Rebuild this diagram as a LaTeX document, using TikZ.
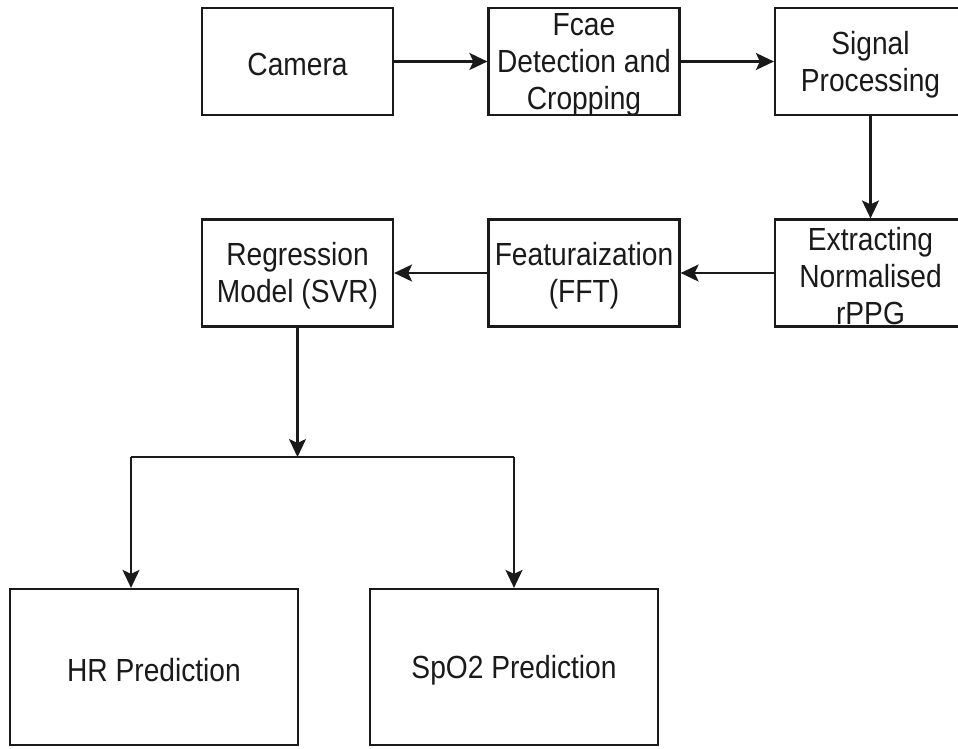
\documentclass[tikz,border=0pt]{standalone}
\usepackage{fontspec}
\setmainfont{Liberation Sans}[FakeStretch=0.88]
\usetikzlibrary{arrows.meta}
\definecolor{ink}{HTML}{1A1A1A}
\begin{document}
\begin{tikzpicture}[x=1pt,y=-1pt,
  box/.style={draw=ink, line width=2.2pt, fill=white, inner sep=0pt, minimum width=191pt, minimum height=107pt},
  bigbox/.style={draw=ink, line width=2.2pt, fill=white, inner sep=0pt, minimum width=288pt, minimum height=156pt},
  txt/.style={inner sep=0pt, align=center, text=ink, yshift=-3pt, font=\fontsize{32}{37}\selectfont},
  conn/.style={draw=ink, line width=2.2pt},
  arr/.style={conn, -{Stealth[length=18pt,width=17pt,inset=4pt]}}]
\useasboundingbox (0,0) rectangle (958,748);
\clip (0,0) rectangle (958,748);
\fill[white] (0,0) rectangle (958,748);
\node[box, label={[txt]center:Camera}] (cam) at (297.5,61.5) {};
\node[box, label={[txt]center:Fcae\\Detection and\\Cropping}] (face) at (584,61.5) {};
\node[box, label={[txt]center:Signal\\Processing}] (sig) at (870.5,61.5) {};
\node[box, label={[txt]center:Extracting\\Normalised\\rPPG}] (ext) at (870.5,273) {};
\node[box, label={[txt]center:Featuraization\\(FFT)}] (feat) at (584,273) {};
\node[box, label={[txt]center:Regression\\Model (SVR)}] (reg) at (297.5,273) {};
\node[bigbox, label={[txt]center:HR Prediction}] (hr) at (154,667) {};
\node[bigbox, label={[txt]center:SpO2 Prediction}] (spo) at (514,667) {};
\coordinate (j) at (297.5,457);
\coordinate (jl) at (131,457);
\coordinate (jr) at (514,457);
\draw[arr] (cam.east) -- (face.west);
\draw[arr] (face.east) -- (sig.west);
\draw[arr] (sig.south) -- (ext.north);
\draw[arr] (ext.west) -- (feat.east);
\draw[arr] (feat.west) -- (reg.east);
\draw[arr] (reg.south) -- (j);
\draw[conn] (jl) -- (jr);
\draw[arr] (jl) -- (jl |- hr.north);
\draw[arr] (jr) -- (spo.north);
\end{tikzpicture}
\end{document}
